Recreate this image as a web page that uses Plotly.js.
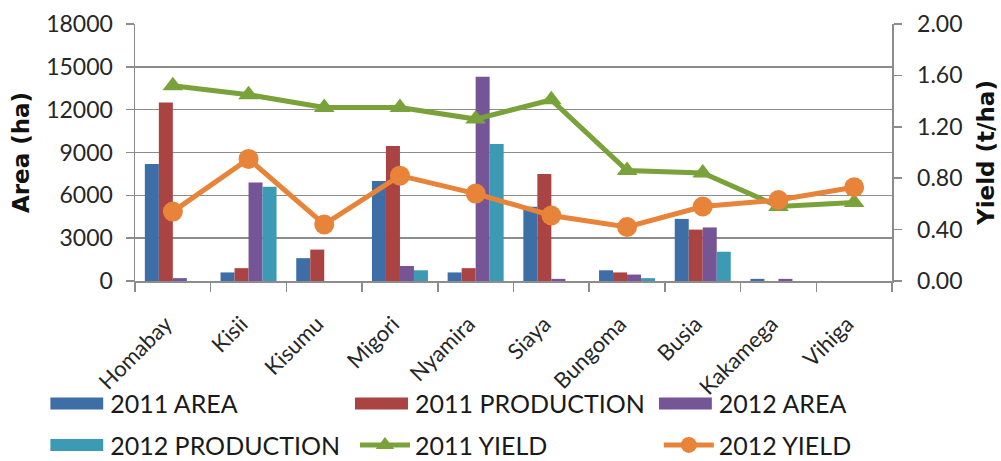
<!DOCTYPE html>
<html><head><meta charset="utf-8">
<script src="https://cdn.plot.ly/plotly-3.0.1.min.js"></script>
<style>html,body{margin:0;padding:0;background:#fff}</style>
</head><body><div id="chart" style="width:1001px;height:461px"></div>
<script>
const categories = ['Homabay','Kisii','Kisumu','Migori','Nyamira','Siaya','Bungoma','Busia','Kakamega','Vihiga'];
const area2011 = [8200, 600, 1600, 7000, 600, 5200, 750, 4350, 150, 0];
const production2011 = [12500, 900, 2200, 9450, 900, 7500, 600, 3600, 0, 0];
const area2012 = [200, 6900, 0, 1050, 14300, 150, 450, 3750, 150, 0];
const production2012 = [0, 6600, 0, 750, 9600, 0, 200, 2050, 0, 0];
const yield2011 = [1.52, 1.45, 1.35, 1.35, 1.26, 1.41, 0.86, 0.84, 0.58, 0.61];
const yield2012 = [0.54, 0.95, 0.44, 0.82, 0.68, 0.51, 0.42, 0.58, 0.63, 0.73];
const leftTicks = [0, 3000, 6000, 9000, 12000, 15000, 18000];
const leftTickLabels = ['0', '3000', '6000', '9000', '12000', '15000', '18000'];
const rightTicks = [0, 0.4, 0.8, 1.2, 1.6, 2.0];
const rightTickLabels = ['0.00', '0.40', '0.80', '1.20', '1.60', '2.00'];

const C = {blue:'#3e6ea6', red:'#a94442', purple:'#765597', teal:'#3d9ab4', green:'#7aa23a', orange:'#e8843a'};
const tickFont = {family:'Lato, sans-serif', size:23, color:'#262626'};
const catFont = {family:'Lato, sans-serif', size:22, color:'#262626'};

function bar(name, y, color, legend) {
  return {type:'bar', name:name, x:categories, y:y, marker:{color:color}, legend:legend, legendgroup:name, hoverinfo:'skip'};
}
function line(name, y, color, symbol, size, legend) {
  return {type:'scatter', mode:'lines+markers', name:name, x:categories, y:y, yaxis:'y2',
    line:{color:color, width:5}, marker:{color:color, symbol:symbol, size:size}, legend:legend, legendgroup:name, hoverinfo:'skip'};
}
const data = [
  bar('2011 AREA', area2011, C.blue, 'legend'),
  bar('2011 PRODUCTION', production2011, C.red, 'legend2'),
  bar('2012 AREA', area2012, C.purple, 'legend3'),
  bar('2012 PRODUCTION', production2012, C.teal, 'legend'),
  line('2011 YIELD', yield2011, C.green, 'triangle-up', 18, 'legend2'),
  line('2012 YIELD', yield2012, C.orange, 'circle', 20, 'legend3')
];
const legFont = {family:'Lato, sans-serif', size:25, color:'#1a1a1a'};
function leg(x) {
  return {x:x, y:-0.388, xanchor:'left', yanchor:'top', orientation:'v', font:legFont,
    bgcolor:'rgba(0,0,0,0)', itemwidth:50, tracegroupgap:6, traceorder:'grouped'};
}
const titleFont = {family:'DejaVu Sans, sans-serif', size:23, color:'#111', weight:'bold'};
const layout = {
  width:1001, height:461,
  margin:{l:135, r:109, t:24, b:180, autoexpand:false},
  paper_bgcolor:'#fff', plot_bgcolor:'#fff',
  barmode:'group', bargap:0.26, bargroupgap:0,
  showlegend:true,
  legend: leg(-0.112), legend2: leg(0.2906), legend3: leg(0.692),
  xaxis:{type:'category', range:[-0.5, categories.length - 0.5], automargin:false, tickangle:-45, tickfont:catFont, ticks:'outside', ticklen:9, tickwidth:1.5,
    ticklabelstandoff:20, ticklabelshift:-7,
    tickcolor:'#8c8c8c', tickson:'boundaries', showline:true, linecolor:'#8c8c8c', linewidth:1.5, showgrid:false, fixedrange:true},
  yaxis:{automargin:false, range:[0,18000], tickvals:leftTicks, ticktext:leftTickLabels, tickfont:tickFont, ticks:'outside', ticklen:8, tickwidth:1.5, tickcolor:'#8c8c8c',
    ticklabelstandoff:8,
    showline:true, linecolor:'#8c8c8c', linewidth:1.5, showgrid:true, gridcolor:'#8c8c8c', gridwidth:1.5, zeroline:false,
    title:{text:'Area (ha)', font:titleFont, standoff:10}, fixedrange:true},
  yaxis2:{automargin:false, overlaying:'y', side:'right', range:[0,2], tickvals:rightTicks, ticktext:rightTickLabels, tickfont:tickFont,
    ticks:'outside', ticklen:8, tickwidth:1.5, tickcolor:'#8c8c8c', showline:true, linecolor:'#8c8c8c', linewidth:1.5,
    ticklabelstandoff:11,
    showgrid:false, zeroline:false,
    title:{text:'Yield (t/ha)', font:titleFont, standoff:16}, fixedrange:true}
};
Plotly.newPlot('chart', data, layout, {staticPlot:true, displayModeBar:false}).then(function(gd){
  // widen the bar-series legend keys to match the reference's rectangular swatches
  document.querySelectorAll('g.traces').forEach(function(t){
    const d = t.__data__; const tr = d && d[0] && d[0].trace;
    if (tr && tr.type === 'bar') t.querySelectorAll('.legendpoints path').forEach(function(p){ p.setAttribute('d','M23,6H-30V-6H23Z'); });
  });
});
</script>
</body></html>
